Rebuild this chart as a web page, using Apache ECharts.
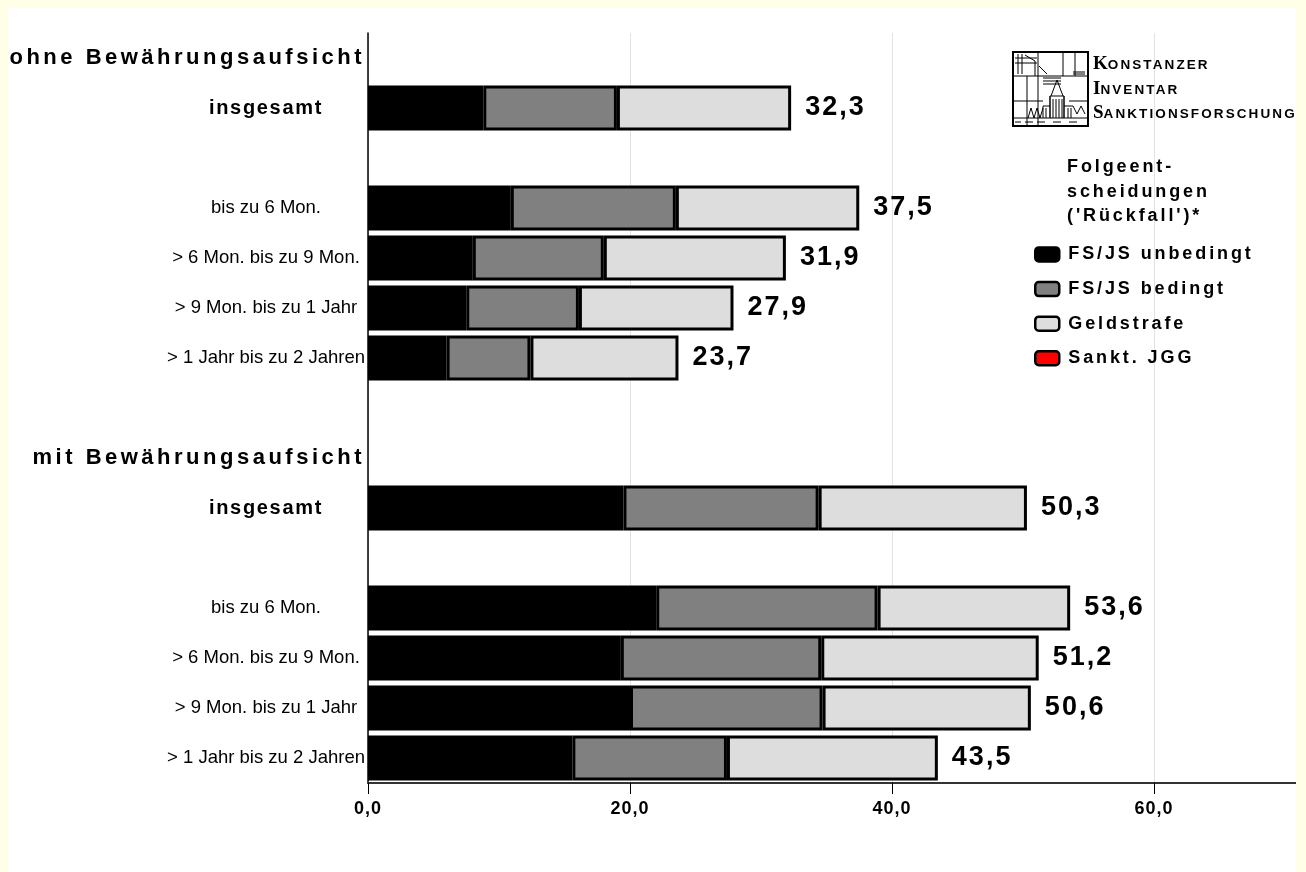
<!DOCTYPE html>
<html>
<head>
<meta charset="utf-8">
<script src="https://cdn.jsdelivr.net/npm/echarts@6/dist/echarts.min.js"></script>
<style>
  html, body { margin: 0; padding: 0; background: #ffffff; }
  #chart { width: 1306px; height: 872px; }
</style>
</head>
<body>
<div id="chart"></div>
<script>
// Letter spacing for canvas text: a font family list ending in "trackingN"
// draws that text with N px between the glyphs.
(function () {
  const desc = Object.getOwnPropertyDescriptor(CanvasRenderingContext2D.prototype, 'font');
  if (!desc || !('letterSpacing' in CanvasRenderingContext2D.prototype)) return;
  Object.defineProperty(CanvasRenderingContext2D.prototype, 'font', {
    configurable: true,
    get() { return desc.get.call(this); },
    set(v) {
      desc.set.call(this, v);
      const m = /tracking(\d+(?:_\d+)?)/.exec(v);
      this.letterSpacing = m ? m[1].replace('_', '.') + 'px' : '0px';
    }
  });
})();

const SANS = 'Liberation Sans';
const tracked = n => SANS + ', tracking' + String(n).replace('.', '_');

// Rows from top to bottom: group headers, totals, blank spacer rows and duration classes
const categories = [
  'ohne Bewährungsaufsicht', 'insgesamt', '',
  'bis zu 6 Mon.', '> 6 Mon. bis zu 9 Mon.', '> 9 Mon. bis zu 1 Jahr', '> 1 Jahr bis zu 2 Jahren',
  '', 'mit Bewährungsaufsicht', 'insgesamt', '',
  'bis zu 6 Mon.', '> 6 Mon. bis zu 9 Mon.', '> 9 Mon. bis zu 1 Jahr', '> 1 Jahr bis zu 2 Jahren'
];
const headerRows = [0, 8];
const totalRows = [1, 9];

// Follow-up decisions in percent
const fsUnbedingt = [null, 8.8, null, 10.9, 8.0, 7.5, 6.0, null, null, 19.5, null, 22.0, 19.3, 20.0, 15.6];
const fsBedingt   = [null, 10.2, null, 12.6, 10.0, 8.6, 6.4, null, null, 14.9, null, 16.9, 15.3, 14.7, 11.8];
const geldstrafe  = [null, 13.3, null, 14.0, 13.9, 11.8, 11.3, null, null, 15.9, null, 14.7, 16.6, 15.9, 16.1];
const sanktJGG    = [null, null, null, null, null, null, null, null, null, null, null, null, null, null, null];

const seriesNames = ['FS/JS unbedingt', 'FS/JS bedingt', 'Geldstrafe', 'Sankt. JGG'];
const seriesColors = ['#000000', '#808080', '#dddddd', '#ff0000'];

const xTicks = { min: 0, max: 80, interval: 20 };

const fmt = v => v.toFixed(1).replace('.', ',');

const chart = echarts.init(document.getElementById('chart'), null, { renderer: 'canvas' });

const rowLabels = categories.map((c, i) =>
  totalRows.includes(i)
    ? { value: c, textStyle: { fontWeight: 'bold', fontSize: 20, align: 'center', fontFamily: tracked(1.7) } }
    : c);

const seriesData = [fsUnbedingt, fsBedingt, geldstrafe, sanktJGG];

const series = seriesData.map((d, k) => ({
  name: seriesNames[k],
  type: 'bar',
  stack: 'rueckfall',
  yAxisIndex: 0,
  barWidth: '90%',
  data: d,
  itemStyle: { color: seriesColors[k], borderColor: '#000000', borderWidth: 3 },
  emphasis: { disabled: true },
  label: k === 2 ? {
    show: true,
    position: 'right',
    distance: 14,
    color: '#000000',
    fontSize: 27,
    fontWeight: 'bold',
    fontFamily: tracked(2),
    formatter: p => {
      const i = p.dataIndex;
      return fmt(fsUnbedingt[i] + fsBedingt[i] + geldstrafe[i]);
    }
  } : { show: false }
}));

// Logo of the Konstanzer Inventar Sanktionsforschung
const LX = 1013, LY = 52, LW = 75, LH = 74;
const line = (x1, y1, x2, y2, w) => ({
  type: 'line', shape: { x1: LX + x1, y1: LY + y1, x2: LX + x2, y2: LY + y2 },
  style: { stroke: '#000', lineWidth: w || 1 }, z: 10
});
const logo = [
  { type: 'rect', shape: { x: LX, y: LY, width: LW, height: LH }, style: { fill: '#fff', stroke: '#000', lineWidth: 2 }, z: 10 },
  line(25, 0, 25, LH), line(50, 0, 50, 24), line(62, 0, 62, 24),
  line(0, 24, LW, 24), line(0, 49, 30, 49), line(56, 49, LW, 49),
  line(0, 66, LW, 66), line(14, 24, 14, LH),
  line(5, 2, 5, 22), line(9, 2, 9, 22), line(2, 6, 24, 6), line(2, 11, 24, 11),
  line(12, 3, 22, 9), line(22, 9, 22, 24), line(26, 14, 34, 22),
  line(30, 26, 48, 26), line(30, 29, 48, 29), line(30, 32, 48, 32),
  line(60, 20, 72, 20), line(60, 22, 72, 22),
  // tower
  line(44, 28, 38, 44), line(44, 28, 50, 44),
  line(37, 44, 37, 66, 1.5), line(51, 44, 51, 66, 1.5), line(37, 44, 51, 44),
  line(40, 47, 40, 66), line(43, 47, 43, 66), line(46, 47, 46, 66), line(49, 47, 49, 66),
  line(30, 54, 37, 54), line(30, 54, 30, 66), line(33, 56, 33, 66),
  line(51, 54, 60, 54), line(55, 56, 55, 66), line(58, 56, 58, 66),
  line(60, 54, 64, 62), line(64, 62, 68, 54), line(68, 54, 72, 62),
  // zigzag
  line(15, 66, 18, 56), line(18, 56, 21, 66), line(21, 66, 24, 56), line(24, 56, 27, 66), line(27, 66, 30, 56),
  line(2, 70, 8, 70), line(12, 70, 20, 70), line(24, 70, 32, 70), line(40, 70, 48, 70), line(56, 70, 64, 70)
];

const logoText = (y, initial, rest) => ({
  type: 'text', left: 1093, top: y, z: 10,
  style: {
    text: '{a|' + initial + '}{b|' + rest + '}',
    rich: {
      a: { fontFamily: 'Liberation Serif', fontSize: 19, fontWeight: 'bold', fill: '#000', verticalAlign: 'bottom' },
      b: { fontFamily: tracked(2.1), fontSize: 13.5, fontWeight: 'bold', fill: '#000', verticalAlign: 'bottom', padding: [0, 0, 1, 0] }
    }
  }
});

const option = {
  backgroundColor: '#ffffff',
  animation: false,
  grid: { left: 368, top: 33, height: 750, width: 1048, outerBoundsMode: 'none' },
  xAxis: {
    type: 'value',
    min: xTicks.min, max: xTicks.max, interval: xTicks.interval,
    axisLine: { show: true, lineStyle: { color: '#333333', width: 2 } },
    axisTick: { show: true, length: 11, lineStyle: { color: '#000', width: 1 } },
    axisLabel: {
      margin: 17, color: '#000', fontSize: 18, fontWeight: 'bold', fontFamily: tracked(1),
      formatter: v => fmt(v)
    },
    splitLine: { show: true, lineStyle: { color: '#e2e2e2', width: 1 } }
  },
  yAxis: [
    {
      type: 'category',
      inverse: true,
      data: rowLabels,
      axisLine: { show: true, onZero: false, lineStyle: { color: '#000', width: 1.5 } },
      axisTick: { show: false },
      axisLabel: {
        margin: 102, align: 'center', color: '#000', fontSize: 18.5, fontFamily: SANS,
        interval: 0,
        formatter: (v, i) => headerRows.includes(i) ? '' : v
      },
      splitLine: { show: false }
    },
    {
      type: 'category',
      inverse: true,
      data: categories,
      position: 'left',
      axisLine: { show: false },
      axisTick: { show: false },
      axisLabel: {
        margin: 3, align: 'right', color: '#000', fontSize: 22, fontWeight: 'bold', fontFamily: tracked(3.5),
        interval: 0,
        formatter: (v, i) => headerRows.includes(i) ? v : ''
      },
      splitLine: { show: false }
    }
  ],
  legend: {
    orient: 'vertical',
    left: 1034, top: 244,
    padding: 0,
    itemWidth: 24, itemHeight: 14, itemGap: 13.7,
    icon: 'roundRect',
    selectedMode: false,
    itemStyle: { borderColor: '#000', borderWidth: 2.5 },
    textStyle: { color: '#000', fontSize: 18, fontWeight: 'bold', fontFamily: tracked(2.9), padding: [0, 0, 0, 4] },
    data: seriesNames
  },
  graphic: [
    ...logo,
    logoText(55, 'K', 'ONSTANZER'),
    logoText(80, 'I', 'NVENTAR'),
    logoText(104, 'S', 'ANKTIONSFORSCHUNG'),
    {
      type: 'text', left: 1067, top: 155, z: 10,
      style: {
        text: "Folgeent-\nscheidungen\n('Rückfall')*",
        fontFamily: tracked(2.9), fontSize: 18, fontWeight: 'bold', fill: '#000', lineHeight: 24.5
      }
    },
    // light yellow page frame
    { type: 'rect', shape: { x: 0, y: 0, width: 1306, height: 8 }, style: { fill: '#ffffe8' }, z: 100 },
    { type: 'rect', shape: { x: 0, y: 0, width: 8, height: 872 }, style: { fill: '#ffffe8' }, z: 100 },
    { type: 'rect', shape: { x: 1296, y: 0, width: 10, height: 872 }, style: { fill: '#ffffe8' }, z: 100 }
  ],
  series
};

chart.setOption(option);
</script>
</body>
</html>
